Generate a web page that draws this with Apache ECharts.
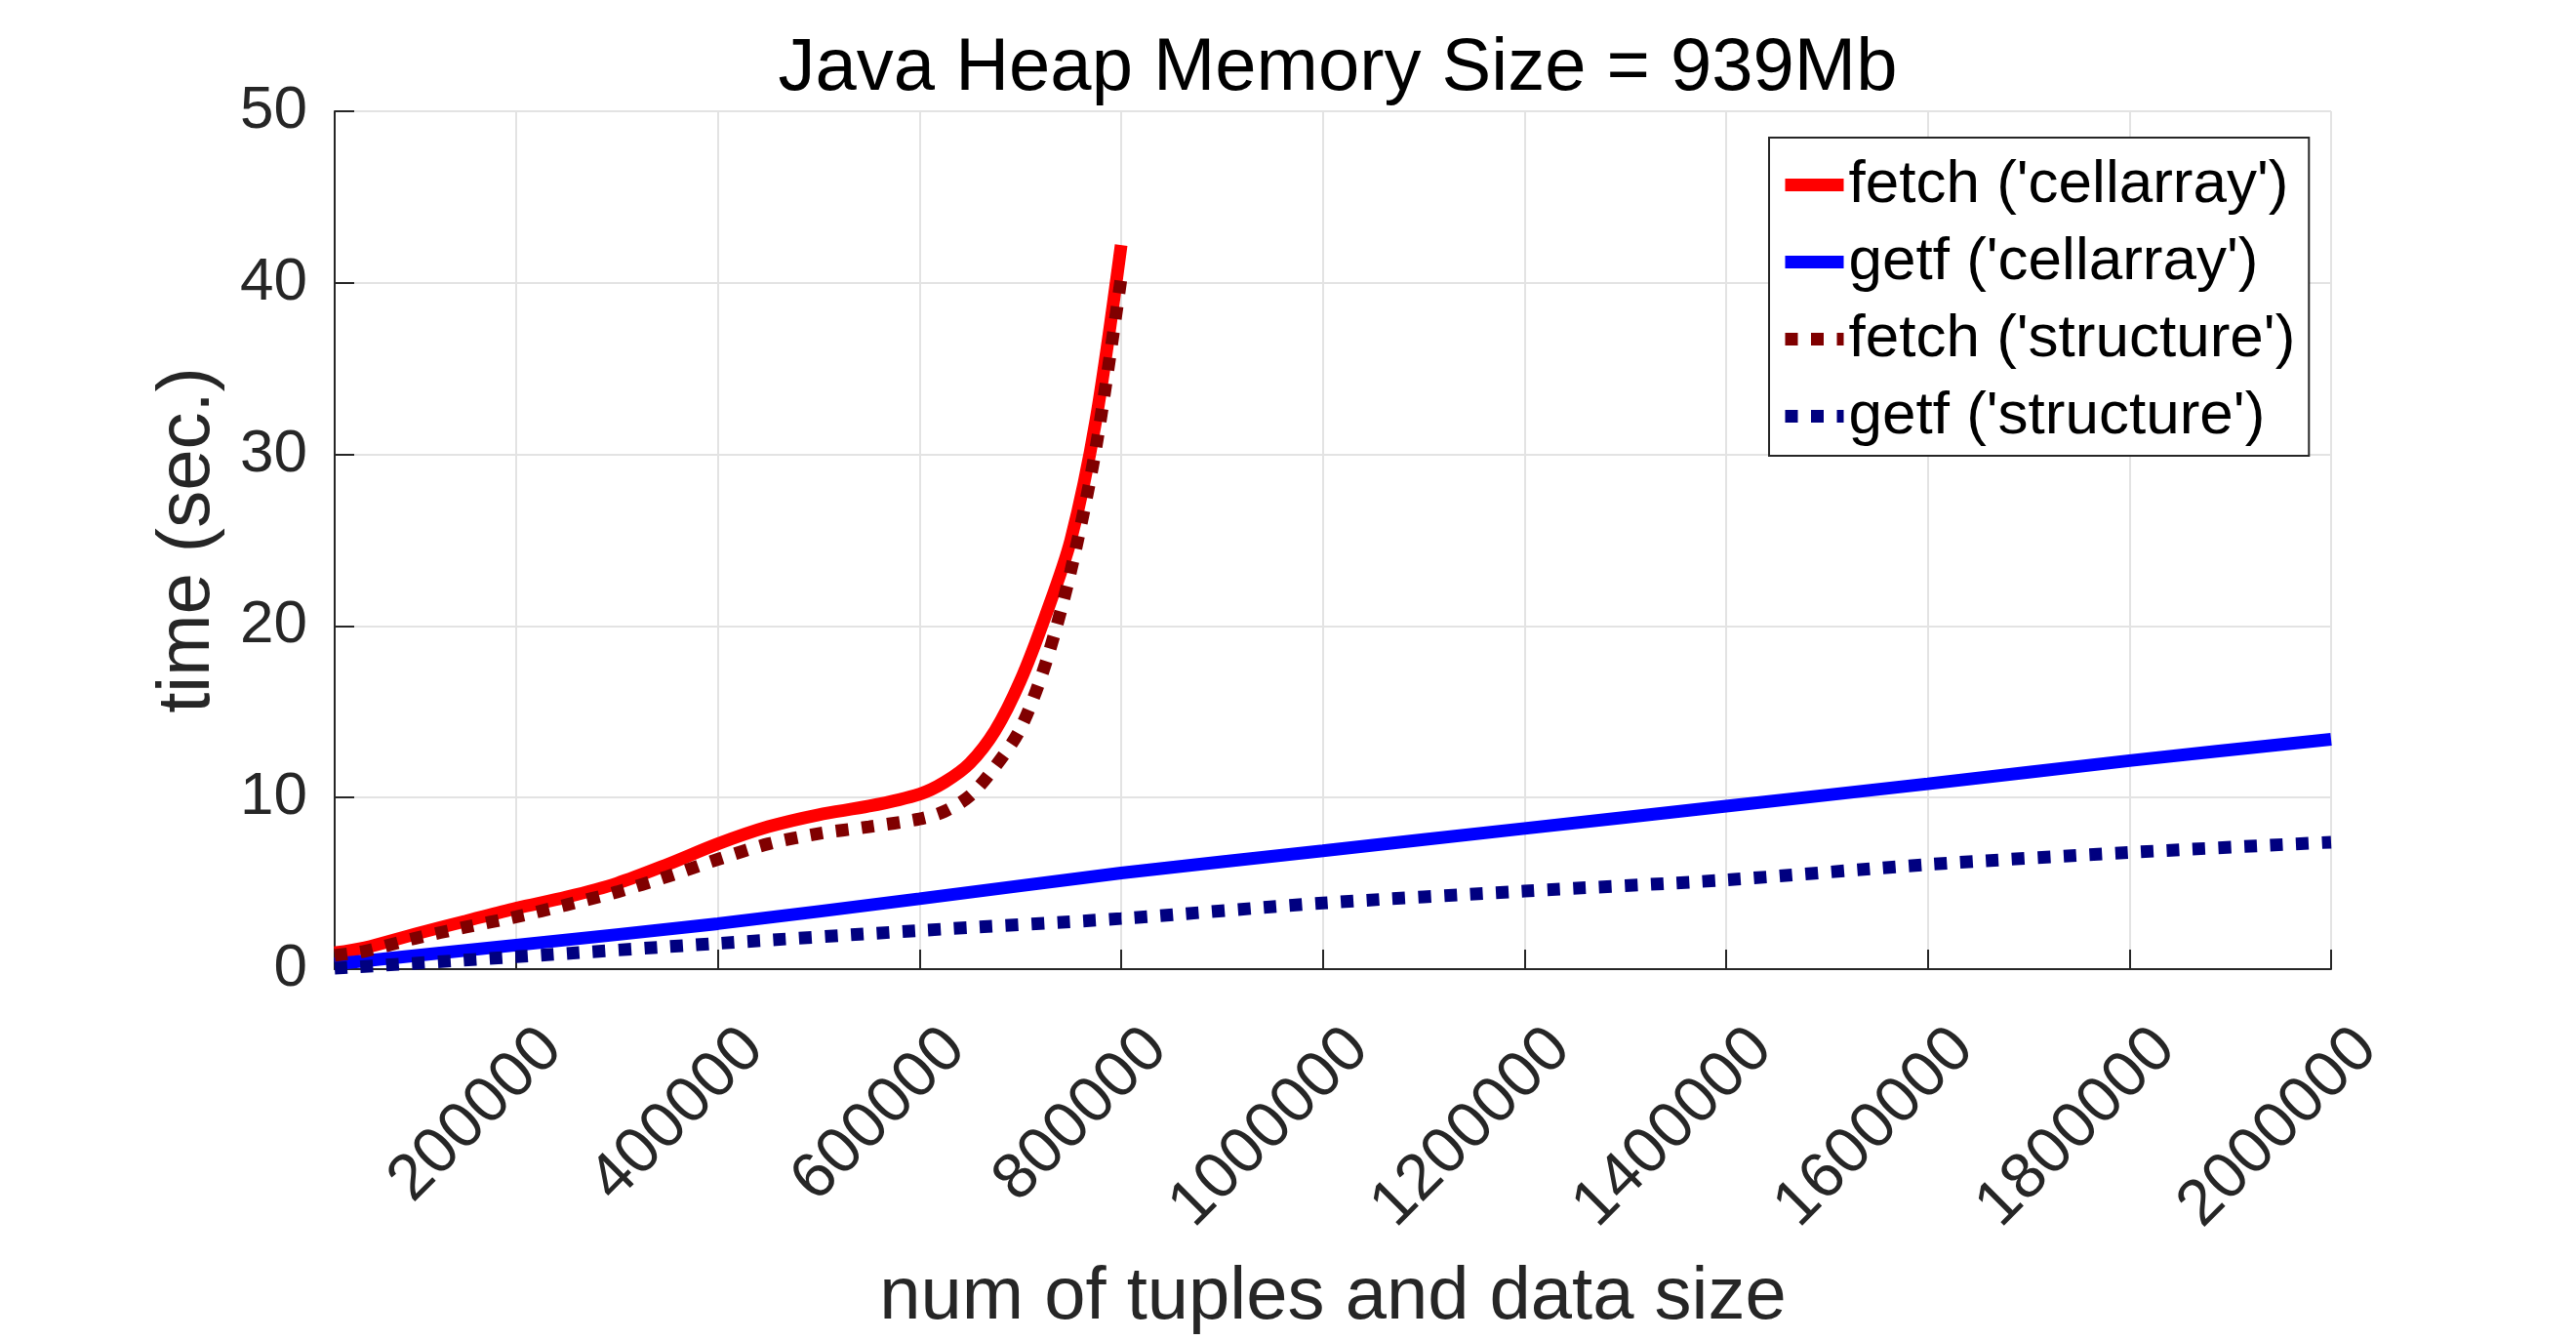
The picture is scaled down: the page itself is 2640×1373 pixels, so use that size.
<!DOCTYPE html>
<html>
<head>
<meta charset="utf-8">
<title>Java Heap Memory Size = 939Mb</title>
<script src="https://cdn.jsdelivr.net/npm/echarts@6.0.0/dist/echarts.min.js"></script>
<style>
  html, body { margin: 0; padding: 0; background: #fff; }
  #chart { width: 2640px; height: 1373px; }
</style>
</head>
<body>
<div id="chart"></div>
<script>
// values
const fetchX = [20000, 50000, 100000, 150000, 200000, 250000, 300000, 350000, 400000, 450000,
  500000, 550000, 600000, 625000, 650000, 675000, 700000, 725000, 750000, 775000, 800000]
const fetchCellarray = [0.95, 1.25, 2.05, 2.8, 3.55, 4.2, 5.0, 6.1, 7.3, 8.3,
  9.0, 9.5, 10.2, 10.9, 12.0, 13.9, 16.8, 20.6, 25.0, 32.0, 42.2]
const fetchStructure = [0.8, 1.05, 1.8, 2.45, 3.05, 3.75, 4.5, 5.4, 6.4, 7.3,
  7.9, 8.3, 8.75, 9.2, 10.1, 11.8, 14.0, 17.8, 23.2, 30.4, 40.3]

const getfX = [20000, 200000, 400000, 600000, 800000, 1000000, 1200000, 1400000, 1600000, 1800000, 2000000]
const getfCellarray = [0.3, 1.4, 2.65, 4.1, 5.6, 6.9, 8.2, 9.5, 10.8, 12.15, 13.4]
const getfStructure = [0.05, 0.72, 1.5, 2.25, 2.95, 3.85, 4.55, 5.2, 6.1, 6.8, 7.4]

const xTicks = [200000, 400000, 600000, 800000, 1000000, 1200000, 1400000, 1600000, 1800000, 2000000]
const seriesNames = ["fetch ('cellarray')", "getf ('cellarray')", "fetch ('structure')", "getf ('structure')"]

const FONT = 'Liberation Sans, Arial, Helvetica, sans-serif'
const AXIS = '#262626'
const GRID = '#e3e3e3'
const LW = 13
const DOTS = [13, 13.5]

const pairs = (xs, ys) => xs.map((x, i) => [x, ys[i]])

const chart = echarts.init(document.getElementById('chart'))

const option = {
  animation: false,
  backgroundColor: '#fff',
  title: {
    text: 'Java Heap Memory Size = 939Mb',
    left: 1366,
    textAlign: 'center',
    top: 28,
    textStyle: { fontFamily: FONT, fontSize: 76, fontWeight: 'normal', color: '#000' }
  },
  legend: {
    orient: 'vertical',
    left: 1813,
    top: 141,
    padding: [9, 14, 1, 10],
    itemGap: 0,
    itemWidth: 60,
    itemHeight: 14,
    backgroundColor: '#fff',
    borderColor: AXIS,
    borderWidth: 2,
    borderRadius: 0,
    lineStyle: { width: 'inherit' },
    itemStyle: { color: 'rgba(0,0,0,0)', borderWidth: 0, opacity: 0 },
    data: seriesNames,
    textStyle: { fontFamily: FONT, fontSize: 62, color: '#000', lineHeight: 79 }
  },
  grid: { left: 343, top: 114, right: 251, bottom: 370, containLabel: false },
  xAxis: {
    type: 'value',
    min: 20000,
    max: 2000000,
    name: 'num of tuples and data size',
    nameLocation: 'middle',
    nameGap: 299,
    nameTextStyle: { fontFamily: FONT, fontSize: 76, color: AXIS },
    axisLine: { show: true, lineStyle: { color: AXIS, width: 2 } },
    axisTick: { show: true, inside: true, length: 20, customValues: xTicks, lineStyle: { color: AXIS, width: 2 } },
    axisLabel: {
      customValues: xTicks,
      rotate: 45,
      margin: 35,
      verticalAlign: 'top',
      padding: [19, 0, 0, 0],
      fontFamily: FONT,
      fontSize: 66,
      color: AXIS,
      formatter: v => String(v)
    },
    splitLine: { show: true, lineStyle: { color: GRID, width: 2 } }
  },
  yAxis: {
    type: 'value',
    min: 0,
    max: 50,
    interval: 10,
    name: 'time (sec.)',
    nameLocation: 'middle',
    nameGap: 112,
    nameTextStyle: { fontFamily: FONT, fontSize: 76, color: AXIS },
    axisLine: { show: true, lineStyle: { color: AXIS, width: 2 } },
    axisTick: { show: true, inside: true, length: 20, lineStyle: { color: AXIS, width: 2 } },
    axisLabel: { margin: 28, fontFamily: FONT, fontSize: 62, color: AXIS },
    splitLine: { show: true, lineStyle: { color: GRID, width: 2 } }
  },
  series: [
    {
      name: seriesNames[0],
      type: 'line',
      data: pairs(fetchX, fetchCellarray),
      smooth: 0.3,
      symbol: 'none',
      lineStyle: { color: '#ff0000', width: LW },
      itemStyle: { color: '#ff0000' }
    },
    {
      name: seriesNames[1],
      type: 'line',
      data: pairs(getfX, getfCellarray),
      smooth: 0.3,
      symbol: 'none',
      lineStyle: { color: '#0000ff', width: LW },
      itemStyle: { color: '#0000ff' }
    },
    {
      name: seriesNames[2],
      type: 'line',
      data: pairs(fetchX, fetchStructure),
      smooth: 0.3,
      symbol: 'none',
      lineStyle: { color: '#800000', width: LW, type: DOTS },
      itemStyle: { color: '#800000' }
    },
    {
      name: seriesNames[3],
      type: 'line',
      data: pairs(getfX, getfStructure),
      smooth: 0.3,
      symbol: 'none',
      lineStyle: { color: '#000080', width: LW, type: DOTS },
      itemStyle: { color: '#000080' }
    }
  ]
}

chart.setOption(option)
window.addEventListener('resize', () => chart.resize())
</script>
</body>
</html>
